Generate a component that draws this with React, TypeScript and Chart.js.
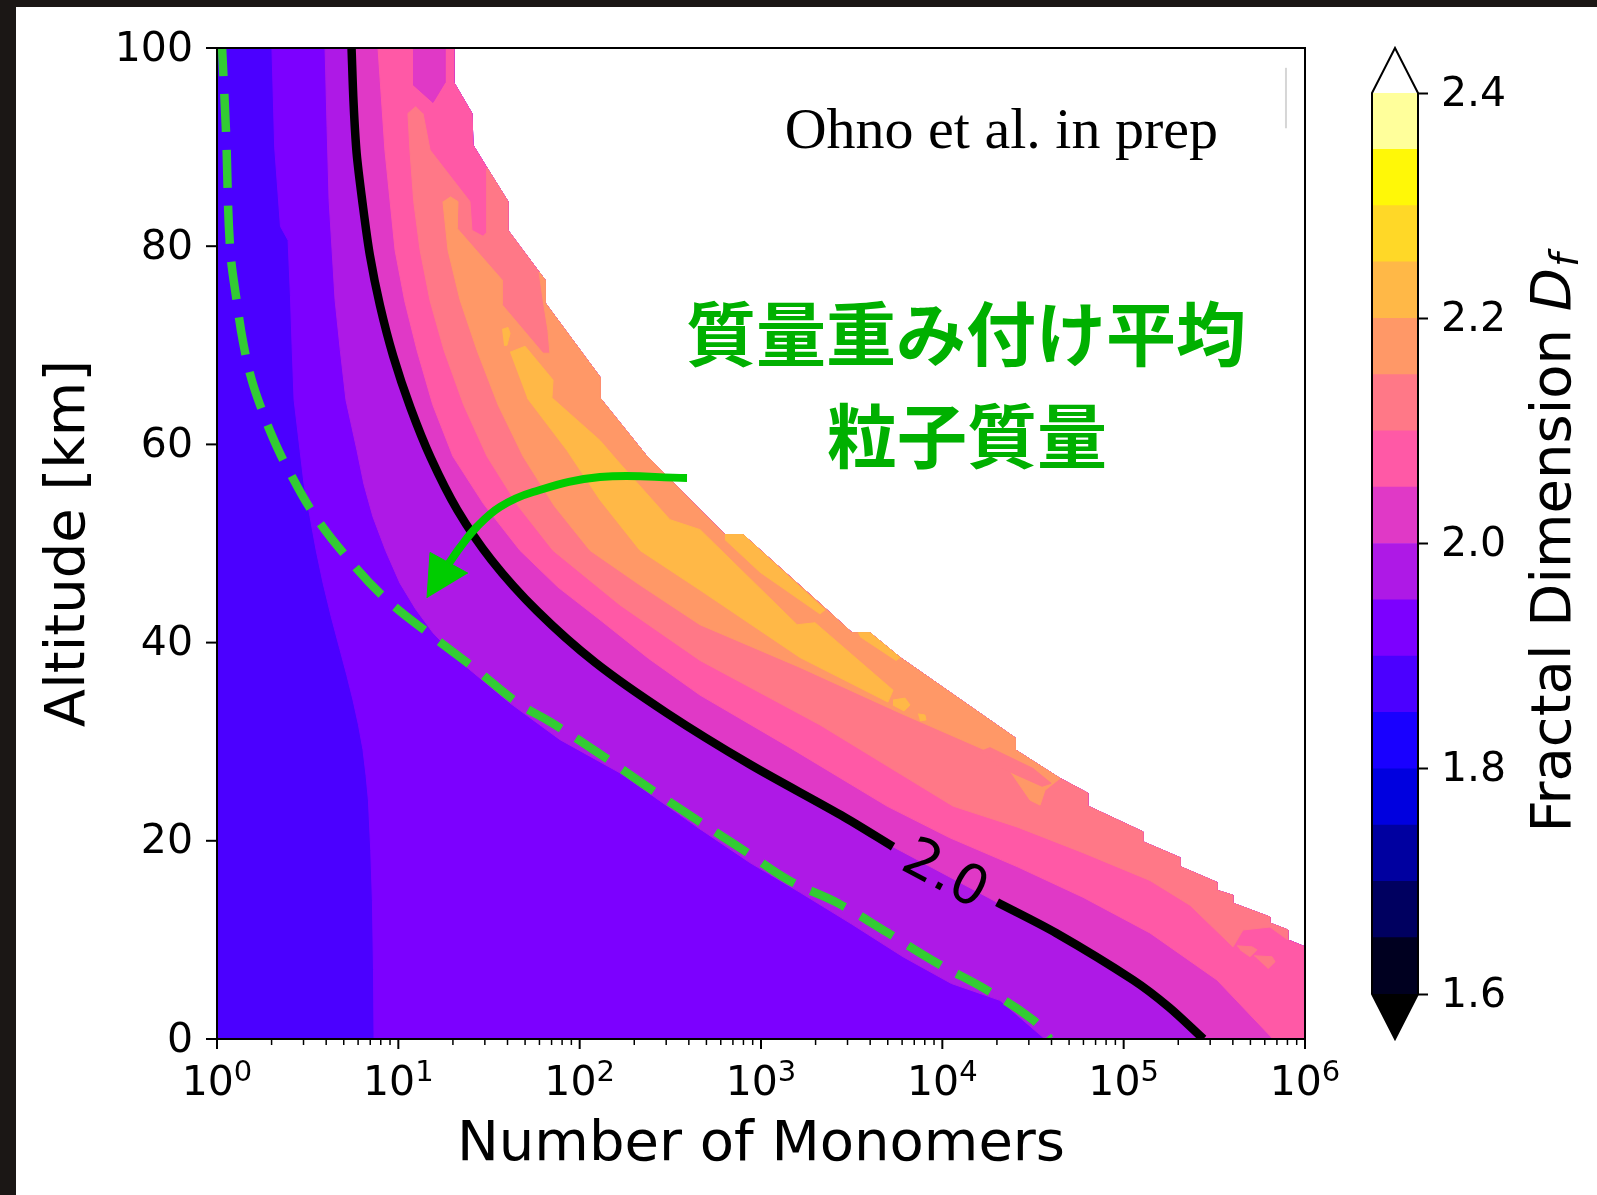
import React, { useEffect, useRef } from 'react';
import { Chart, registerables } from 'chart.js';

Chart.register(...registerables);

// Every point is [log10(Number of Monomers), Altitude km]
type P = [number, number];

const ALT_TICKS = [0, 20, 40, 60, 80, 100];
const X_DECADES = [0, 1, 2, 3, 4, 5, 6];
const MINOR_MULTS = [2, 3, 4, 5, 6, 7, 8, 9];

const LEVELS = [1.6, 1.65, 1.7, 1.75, 1.8, 1.85, 1.9, 1.95, 2.0, 2.05, 2.1, 2.15, 2.2, 2.25, 2.3, 2.35, 2.4];
const LEVEL_COLORS = [
  '#000020', '#000060', '#0000a0', '#0000df', '#1900ff', '#4b00ff', '#7c00ff', '#ae19e6',
  '#e039c6', '#ff59a6', '#ff7887', '#ff9867', '#ffb847', '#ffd827', '#fff807', '#ffff9b',
];
const CBAR_TICKS = [1.6, 1.8, 2.0, 2.2, 2.4];

// right-hand edge of the computed domain (white beyond)
const OUTER_EDGE: P[] = [
  [1.307, 100], [1.307, 96.5], [1.406, 93.4], [1.412, 90.2], [1.489, 87.9], [1.605, 84.5],
  [1.605, 81.6], [1.776, 77.4], [1.809, 76.6], [1.809, 74.3], [2.112, 66.8], [2.112, 64.7],
  [2.371, 58.8], [2.664, 53.4], [2.801, 50.9], [2.901, 50.9], [3.364, 43.3], [3.502, 41.0],
  [3.601, 41.0], [3.767, 38.5], [4.401, 30.4], [4.401, 29.2], [4.649, 26.3], [4.803, 24.8],
  [4.803, 23.5], [5.107, 20.9], [5.107, 19.9], [5.311, 18.3], [5.311, 17.4], [5.515, 15.8],
  [5.515, 15.0], [5.603, 14.5], [5.603, 13.7], [5.807, 12.3], [5.807, 11.7], [5.906, 11.0],
  [5.906, 10.0], [6.0, 9.3], [6.0, 0],
];

const CONTOUR_190: P[] = [
  [0.303, 100], [0.318, 90], [0.35, 82], [0.392, 80.6], [0.405, 75], [0.414, 70], [0.425, 64.5],
  [0.458, 59.4], [0.48, 56], [0.513, 52.7], [0.547, 49.3], [0.585, 46.0], [0.63, 42.6],
  [0.678, 39.3], [0.716, 36.7], [0.75, 34.2], [0.78, 31.7], [0.805, 29.2], [0.822, 26.6],
  [0.835, 24.1], [0.848, 19], [0.857, 14], [0.863, 7], [0.866, 0],
];

const CONTOUR_195: P[] = [
  [0.596, 100], [0.607, 92], [0.618, 84.7], [0.651, 74.6], [0.68, 69.5], [0.711, 64.5],
  [0.772, 59.4], [0.81, 56], [0.86, 52.7], [0.93, 49.3], [1.009, 46.0], [1.095, 43.4],
  [1.191, 41.0], [1.285, 39.2], [1.379, 37.5], [1.616, 33.9], [1.892, 30.2], [2.228, 26.8],
  [2.647, 21.4], [2.939, 17.8], [3.215, 14.8], [3.5, 11.6], [3.783, 8.3], [4.05, 5.6],
  [4.318, 3.9], [4.566, 0],
];

const CONTOUR_200: P[] = [
  [0.742, 100], [0.753, 94.5], [0.77, 89.4], [0.803, 84.3], [0.843, 79.1], [0.899, 74.0],
  [0.972, 68.9], [1.067, 63.7], [1.18, 58.6], [1.325, 53.4], [1.515, 48.3], [1.765, 43.2],
  [2.085, 38.0], [2.48, 32.9], [2.94, 27.7], [3.44, 22.6], [3.728, 19.4],
  [4.302, 13.8], [4.627, 10.7], [5.052, 5.95], [5.25, 3.2], [5.44, 0],
];
const CLABEL_GAP: [P, P] = [[3.728, 19.4], [4.302, 13.8]];
const CLABEL_TEXT = '2.0';

const CONTOUR_205: P[] = [
  [0.888, 100], [0.926, 89.7], [0.982, 79.6], [1.035, 74.5], [1.103, 69.5], [1.19, 64.0],
  [1.301, 58.8], [1.47, 54.0], [1.671, 49.3], [1.88, 45.6], [2.112, 42.3], [2.38, 38.4],
  [2.664, 34.7], [3.16, 29.4], [3.695, 23.5], [4.042, 20.3], [4.412, 17.4], [4.776, 14.3],
  [5.145, 10.7], [5.515, 5.95], [5.824, 0],
];
const ISLAND_200_TOP: P[] = [[1.081, 100], [1.257, 100], [1.257, 96.5], [1.191, 94.5], [1.081, 96.3]];

const CONTOUR_210: P[] = [
  [1.097, 94.1], [1.053, 93.4], [1.064, 89.7], [1.085, 84.5], [1.12, 79.6], [1.175, 74.5],
  [1.252, 69.5], [1.36, 64.0], [1.489, 58.8], [1.66, 53.8], [1.853, 49.3], [2.222, 43.8],
  [2.664, 38.2], [3.325, 31.7], [4.059, 23.5], [4.412, 21.4], [4.776, 18.8], [5.145, 16.0],
  [5.366, 13.5], [5.603, 9.3], [5.658, 11.0], [5.807, 11.3], [5.906, 10.0],
];
const TONGUE_210: P[] = [[1.489, 81.4], [1.467, 81.0], [1.406, 81.6], [1.395, 84.5], [1.175, 89.7], [1.136, 93.4]];
const ISLAND_210_A: P[] = [[5.625, 9.4], [5.708, 9.3], [5.735, 9.0], [5.697, 8.3], [5.642, 9.0]];
const ISLAND_210_B: P[] = [[5.719, 8.4], [5.818, 8.3], [5.835, 7.8], [5.796, 7.1]];
const ISLAND_210_C: P[] = [[4.208, 29.0], [4.263, 29.4], [4.5, 27.3], [4.6, 25.8], [4.55, 25.5], [4.318, 27.4]];

const CONTOUR_215: P[] = [
  [1.246, 84.5], [1.274, 79.6], [1.34, 74.6], [1.434, 69.5], [1.55, 64.0], [1.688, 58.8],
  [1.86, 53.8], [2.057, 49.3], [2.333, 45.8], [2.664, 41.8], [3.215, 37.5], [3.767, 32.9],
  [4.318, 28.5], [4.484, 24.1], [4.539, 23.6],
];
const ORANGE_TOP_215: P[] = [
  [1.285, 85.0], [1.329, 84.5], [1.324, 81.8], [1.572, 76.6], [1.572, 74.1], [1.798, 69.2],
  [1.836, 69.2], [1.825, 71.5], [1.798, 74.6],
];
const ORANGE_TIP_215: P = [4.566, 25.1];

const REGION_220: P[] = [
  [1.616, 69.3], [1.699, 69.9], [1.853, 66.5], [1.847, 64.7], [2.112, 60.4], [2.206, 58.4],
  [2.498, 52.4], [2.664, 51.4], [3.199, 41.8], [3.298, 42.0], [3.728, 35.2], [3.7, 34.0],
  [3.215, 38.5], [2.664, 45.3], [2.333, 49.3], [2.112, 54.4], [1.93, 59.4], [1.71, 64.7],
];
const STRIP_220_A: P[] = [[2.801, 50.9], [2.901, 50.9], [3.353, 43.3], [3.325, 42.9], [2.995, 47.1], [2.801, 50.4]];
const STRIP_220_B: P[] = [[3.535, 41.0], [3.601, 41.0], [3.767, 38.5], [3.745, 38.2], [3.546, 40.6]];
const SPECK_220_A: P[] = [[3.728, 34.2], [3.794, 34.4], [3.822, 33.7], [3.789, 33.1], [3.728, 33.7]];
const SPECK_220_B: P[] = [[3.866, 32.8], [3.904, 32.7], [3.91, 32.2], [3.877, 32.1]];
const SPECK_220_C: P[] = [[1.572, 71.6], [1.605, 71.8], [1.616, 71.2], [1.599, 70.0], [1.583, 70.0]];

// mass-weighted mean particle mass (green dashed)
const MASS_MEAN: P[] = [
  [0.028, 100], [0.05, 91.4], [0.072, 79.9], [0.11, 74.3], [0.145, 70.2], [0.19, 66.6],
  [0.245, 63.6], [0.31, 60.6], [0.386, 57.7], [0.529, 53.1], [0.717, 48.6], [0.938, 44.3],
  [1.191, 40.6], [1.434, 37.2], [1.66, 33.9], [1.847, 31.9], [2.1, 28.9], [2.377, 25.4],
  [2.647, 22.1], [2.9, 19.1], [3.155, 16.0], [3.425, 13.7], [3.7, 10.7], [3.97, 7.67],
  [4.246, 4.94], [4.5, 1.92], [4.594, 0],
];

const ARROW_SHAFT: P[] = [[2.592, 56.6], [2.112, 56.7], [1.743, 55.2], [1.561, 53.7], [1.434, 51.7], [1.34, 49.6], [1.279, 48.0]];
const ARROW_HEAD: P[] = [[1.158, 44.5], [1.175, 49.1], [1.384, 47.0]];

const CREDIT_TEXT = 'Ohno et al. in prep';
const CREDIT_AT: P = [5.52, 89.9];
const NOTE_LINES = ['質量重み付け平均', '粒子質量'];
const NOTE_AT: P[] = [[4.131, 71.1], [4.136, 60.8]];
const LEGEND_EDGE: [P, P] = [[5.895, 98.0], [5.895, 91.9]];

const toXY = (pts: P[]) => pts.map(([lx, a]) => ({ x: Math.pow(10, lx), y: a }));
const rev = (pts: P[]) => pts.slice().reverse();

function superscriptLabel(ctx: any, x: number, yBase: number, base: string, sup: string) {
  ctx.font = '41px "DejaVu Sans"';
  const wb = ctx.measureText(base).width;
  ctx.font = '29px "DejaVu Sans"';
  const ws = ctx.measureText(sup).width;
  const x0 = x - (wb + ws) / 2;
  ctx.textAlign = 'left';
  ctx.textBaseline = 'alphabetic';
  ctx.font = '41px "DejaVu Sans"';
  ctx.fillText(base, x0, yBase);
  ctx.font = '29px "DejaVu Sans"';
  ctx.fillText(sup, x0 + wb, yBase - 14);
}

const mainDecor = {
  id: 'mainDecor',
  afterDraw(chart: any) {
    const { ctx, chartArea: ca } = chart;
    const xs = chart.scales.x;
    const ys = chart.scales.y;
    const px = (p: P) => [xs.getPixelForValue(Math.pow(10, p[0])), ys.getPixelForValue(p[1])];

    // contour label
    const a = px(CLABEL_GAP[0]);
    const b = px(CLABEL_GAP[1]);
    ctx.save();
    ctx.translate((a[0] + b[0]) / 2, (a[1] + b[1]) / 2);
    ctx.rotate(Math.atan2(b[1] - a[1], b[0] - a[0]));
    ctx.font = '55px "DejaVu Sans"';
    ctx.fillStyle = '#000';
    ctx.textAlign = 'center';
    ctx.textBaseline = 'middle';
    ctx.fillText(CLABEL_TEXT, 0, 2);
    ctx.restore();

    ctx.save();
    // faint legend frame edge
    const l0 = px(LEGEND_EDGE[0]);
    const l1 = px(LEGEND_EDGE[1]);
    ctx.strokeStyle = '#d6d6d6';
    ctx.lineWidth = 2;
    ctx.beginPath();
    ctx.moveTo(l0[0], l0[1]);
    ctx.lineTo(l1[0], l1[1]);
    ctx.stroke();

    // frame
    ctx.strokeStyle = '#000';
    ctx.lineWidth = 2;
    ctx.strokeRect(ca.left, ca.top, ca.right - ca.left, ca.bottom - ca.top);

    // x ticks
    ctx.lineWidth = 2;
    for (const e of X_DECADES) {
      const x = xs.getPixelForValue(Math.pow(10, e));
      ctx.beginPath();
      ctx.moveTo(x, ca.bottom);
      ctx.lineTo(x, ca.bottom + 10);
      ctx.stroke();
    }
    ctx.lineWidth = 1.5;
    for (const e of X_DECADES.slice(0, -1)) {
      for (const m of MINOR_MULTS) {
        const x = xs.getPixelForValue(m * Math.pow(10, e));
        ctx.beginPath();
        ctx.moveTo(x, ca.bottom);
        ctx.lineTo(x, ca.bottom + 6);
        ctx.stroke();
      }
    }
    // y ticks
    ctx.lineWidth = 2;
    for (const v of ALT_TICKS) {
      const y = ys.getPixelForValue(v);
      ctx.beginPath();
      ctx.moveTo(ca.left - 11, y);
      ctx.lineTo(ca.left, y);
      ctx.stroke();
    }
    // tick labels
    ctx.fillStyle = '#000';
    ctx.font = '41px "DejaVu Sans"';
    ctx.textAlign = 'right';
    ctx.textBaseline = 'middle';
    for (const v of ALT_TICKS) {
      ctx.fillText(String(v), ca.left - 24, ys.getPixelForValue(v) + 2);
    }
    for (const e of X_DECADES) {
      superscriptLabel(ctx, xs.getPixelForValue(Math.pow(10, e)), ca.bottom + 56, '10', String(e));
    }

    // credit
    const c = px(CREDIT_AT);
    ctx.font = '58px "Liberation Serif"';
    ctx.textAlign = 'right';
    ctx.textBaseline = 'alphabetic';
    ctx.fillStyle = '#000';
    ctx.fillText(CREDIT_TEXT, c[0], c[1]);

    // Japanese note
    ctx.font = 'bold 70px "Noto Sans CJK JP"';
    ctx.fillStyle = '#00b000';
    ctx.textAlign = 'center';
    ctx.textBaseline = 'middle';
    NOTE_LINES.forEach((t, i) => {
      const q = px(NOTE_AT[i]);
      ctx.fillText(t, q[0], q[1]);
    });
    ctx.restore();
  },
};

const cbarDecor = {
  id: 'cbarDecor',
  afterDatasetsDraw(chart: any) {
    const { ctx, chartArea: ca } = chart;
    const cx = (ca.left + ca.right) / 2;
    const ext = (ca.bottom - ca.top) * 0.05;
    ctx.save();
    ctx.beginPath();
    ctx.moveTo(ca.left, ca.top);
    ctx.lineTo(cx, ca.top - ext);
    ctx.lineTo(ca.right, ca.top);
    ctx.closePath();
    ctx.fillStyle = '#ffffff';
    ctx.fill();
    ctx.beginPath();
    ctx.moveTo(ca.left, ca.bottom);
    ctx.lineTo(cx, ca.bottom + ext);
    ctx.lineTo(ca.right, ca.bottom);
    ctx.closePath();
    ctx.fillStyle = '#000000';
    ctx.fill();
    ctx.beginPath();
    ctx.moveTo(ca.left, ca.bottom);
    ctx.lineTo(ca.left, ca.top);
    ctx.lineTo(cx, ca.top - ext);
    ctx.lineTo(ca.right, ca.top);
    ctx.lineTo(ca.right, ca.bottom);
    ctx.lineTo(cx, ca.bottom + ext);
    ctx.closePath();
    ctx.lineWidth = 2;
    ctx.strokeStyle = '#000';
    ctx.stroke();
    ctx.restore();
  },
  afterDraw(chart: any) {
    const { ctx, chartArea: ca } = chart;
    const bx = ca.right + 152;
    const cy = (ca.top + ca.bottom) / 2;
    const p1 = 'Fractal Dimension ';
    ctx.save();
    ctx.fillStyle = '#000';
    ctx.textBaseline = 'alphabetic';
    ctx.textAlign = 'left';
    ctx.font = '56px "DejaVu Sans"';
    const w1 = ctx.measureText(p1).width;
    ctx.font = 'italic 56px "DejaVu Sans"';
    const w2 = ctx.measureText('D').width;
    ctx.font = 'italic 39px "DejaVu Sans"';
    const w3 = ctx.measureText('f').width;
    const total = w1 + w2 + w3;
    ctx.translate(bx, cy);
    ctx.rotate(-Math.PI / 2);
    let x = -total / 2;
    ctx.font = '56px "DejaVu Sans"';
    ctx.fillText(p1, x, 0);
    x += w1;
    ctx.font = 'italic 56px "DejaVu Sans"';
    ctx.fillText('D', x, 0);
    x += w2;
    ctx.font = 'italic 39px "DejaVu Sans"';
    ctx.fillText('f', x + 1, 8);
    ctx.restore();
  },
};

export default function App() {
  const mainRef = useRef<HTMLCanvasElement>(null);
  const cbarRef = useRef<HTMLCanvasElement>(null);

  useEffect(() => {
    const bands: { pts: P[]; color: string }[] = [
      { pts: [[0, 0], [0, 100], ...OUTER_EDGE], color: LEVEL_COLORS[5] },
      { pts: [...CONTOUR_190, ...rev(OUTER_EDGE)], color: LEVEL_COLORS[6] },
      { pts: [...CONTOUR_195, ...rev(OUTER_EDGE)], color: LEVEL_COLORS[7] },
      { pts: [...CONTOUR_200, ...rev(OUTER_EDGE)], color: LEVEL_COLORS[8] },
      { pts: [...CONTOUR_205, ...rev(OUTER_EDGE)], color: LEVEL_COLORS[9] },
      { pts: ISLAND_200_TOP, color: LEVEL_COLORS[8] },
      { pts: [...CONTOUR_210, ...rev(OUTER_EDGE.slice(4, 36)), ...TONGUE_210], color: LEVEL_COLORS[10] },
      { pts: ISLAND_210_A, color: LEVEL_COLORS[10] },
      { pts: ISLAND_210_B, color: LEVEL_COLORS[10] },
      { pts: [...ORANGE_TOP_215, ...OUTER_EDGE.slice(7, 23), ORANGE_TIP_215, ...rev(CONTOUR_215)], color: LEVEL_COLORS[11] },
      { pts: ISLAND_210_C, color: LEVEL_COLORS[10] },
      { pts: REGION_220, color: LEVEL_COLORS[12] },
      { pts: STRIP_220_A, color: LEVEL_COLORS[12] },
      { pts: STRIP_220_B, color: LEVEL_COLORS[12] },
      { pts: SPECK_220_A, color: LEVEL_COLORS[12] },
      { pts: SPECK_220_B, color: LEVEL_COLORS[12] },
      { pts: SPECK_220_C, color: LEVEL_COLORS[12] },
    ];

    const datasets: any[] = bands.map((b, i) => ({
      data: toXY(b.pts),
      fill: 'shape',
      backgroundColor: b.color,
      borderColor: b.color,
      borderWidth: 1,
      pointRadius: 0,
      pointHitRadius: 0,
      tension: 0,
      order: 1000 - i,
    }));

    const lineBase = { fill: false, pointRadius: 0, pointHitRadius: 0 };
    datasets.push({
      ...lineBase,
      data: toXY(CONTOUR_200.filter((p) => p[0] <= CLABEL_GAP[0][0])),
      borderColor: '#000',
      borderWidth: 8.5,
      tension: 0.3,
      order: 20,
    });
    datasets.push({
      ...lineBase,
      data: toXY(CONTOUR_200.filter((p) => p[0] >= CLABEL_GAP[1][0])),
      borderColor: '#000',
      borderWidth: 8.5,
      tension: 0.3,
      order: 19,
    });
    datasets.push({
      ...lineBase,
      data: toXY(MASS_MEAN),
      borderColor: '#33cc33',
      borderWidth: 8.5,
      borderDash: [38, 18],
      borderDashOffset: 10,
      borderCapStyle: 'butt',
      tension: 0.4,
      order: 18,
    });
    datasets.push({
      ...lineBase,
      data: toXY(ARROW_SHAFT),
      borderColor: '#00cc00',
      borderWidth: 8,
      tension: 0.4,
      order: 5,
    });
    datasets.push({
      data: toXY(ARROW_HEAD),
      fill: 'shape',
      backgroundColor: '#00cc00',
      borderColor: '#00cc00',
      borderWidth: 1,
      pointRadius: 0,
      pointHitRadius: 0,
      order: 4,
    });

    const titleFont = { family: 'DejaVu Sans', size: 56, lineHeight: 1.2 };

    const main = new Chart(mainRef.current as HTMLCanvasElement, {
      type: 'line',
      data: { datasets },
      options: {
        animation: false,
        responsive: false,
        events: [],
        layout: { padding: { left: 0, top: 48, right: 35, bottom: 0 } },
        plugins: { legend: { display: false }, tooltip: { enabled: false } },
        scales: {
          x: {
            type: 'logarithmic',
            min: 1,
            max: 1e6,
            position: 'bottom',
            grid: { display: false },
            border: { display: false },
            ticks: { display: false },
            title: { display: true, text: 'Number of Monomers', color: '#000', font: titleFont, padding: { top: 0, bottom: 16 } },
            afterFit: (s: any) => {
              s.height = 156;
            },
          },
          y: {
            type: 'linear',
            min: 0,
            max: 100,
            position: 'left',
            grid: { display: false },
            border: { display: false },
            ticks: { display: false },
            title: { display: true, text: 'Altitude [km]', color: '#000', font: titleFont, padding: { top: 36, bottom: 0 } },
            afterFit: (s: any) => {
              s.width = 217;
            },
          },
        },
      } as any,
      plugins: [mainDecor],
    });

    const cbar = new Chart(cbarRef.current as HTMLCanvasElement, {
      type: 'bar',
      data: {
        labels: [''],
        datasets: LEVEL_COLORS.map((c, i) => ({
          data: [[LEVELS[i], LEVELS[i + 1]]],
          backgroundColor: c,
          borderWidth: 0,
          barPercentage: 1,
          categoryPercentage: 1,
          grouped: false,
        })) as any,
      },
      options: {
        animation: false,
        responsive: false,
        events: [],
        layout: { padding: { left: 32, top: 93, bottom: 201, right: 0 } },
        plugins: { legend: { display: false }, tooltip: { enabled: false } },
        scales: {
          x: { display: false },
          y: {
            position: 'right',
            min: 1.6,
            max: 2.4,
            afterFit: (s: any) => {
              s.width = 179;
            },
            afterBuildTicks: (s: any) => {
              s.ticks = CBAR_TICKS.map((v) => ({ value: v }));
            },
            ticks: {
              callback: (v: any) => Number(v).toFixed(1),
              font: { family: 'DejaVu Sans', size: 41 },
              color: '#000',
              padding: 13,
              labelOffset: 2,
            },
            grid: { display: true, drawOnChartArea: false, drawTicks: true, tickLength: 10, tickWidth: 2, tickColor: '#000' },
            border: { display: false },
          },
        },
      } as any,
      plugins: [cbarDecor],
    });

    return () => {
      main.destroy();
      cbar.destroy();
    };
  }, []);

  return (
    <div style={{ position: 'fixed', left: 0, top: 0, width: 1597, height: 1195, background: '#1b1715', overflow: 'hidden' }}>
      <div style={{ position: 'absolute', left: 16, top: 7, right: 0, bottom: 0, background: '#ffffff' }} />
      <canvas ref={mainRef} width={1340} height={1195} style={{ position: 'absolute', left: 0, top: 0, width: 1340, height: 1195 }} />
      <canvas ref={cbarRef} width={257} height={1195} style={{ position: 'absolute', left: 1340, top: 0, width: 257, height: 1195 }} />
    </div>
  );
}
